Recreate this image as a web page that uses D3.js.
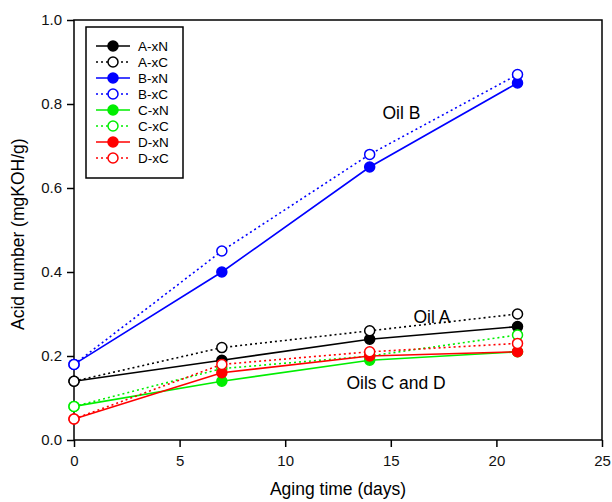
<!DOCTYPE html>
<html>
<head>
<meta charset="utf-8">
<script src="https://cdn.jsdelivr.net/npm/d3@7"></script>
<style>
  body { margin: 0; background: #fff; }
  text { font-family: "Liberation Sans", Arial, sans-serif; }
</style>
</head>
<body>
<div class="chart"></div>
<script>
var width = 612;
var height = 502;

var days = [0, 7, 14, 21];
var seriesNames = ['A-xN', 'A-xC', 'B-xN', 'B-xC', 'C-xN', 'C-xC', 'D-xN', 'D-xC'];
var seriesColors = ['#000000', '#000000', '#0000ff', '#0000ff', '#00ee00', '#00ee00', '#ff0000', '#ff0000'];
var aXN = [0.14, 0.19, 0.24, 0.27];
var aXC = [0.14, 0.22, 0.26, 0.30];
var bXN = [0.18, 0.40, 0.65, 0.85];
var bXC = [0.18, 0.45, 0.68, 0.87];
var cXN = [0.08, 0.14, 0.19, 0.21];
var cXC = [0.08, 0.17, 0.20, 0.25];
var dXN = [0.05, 0.16, 0.20, 0.21];
var dXC = [0.05, 0.18, 0.21, 0.23];
var xTicks = [0, 5, 10, 15, 20, 25];
var yTicks = [0.0, 0.2, 0.4, 0.6, 0.8, 1.0];
var annotations = [
  {text: 'Oil B', x: 15.5, y: 0.764},
  {text: 'Oil A', x: 16.95, y: 0.279},
  {text: 'Oils C and D', x: 15.25, y: 0.121}
];

var allValues = [aXN, aXC, bXN, bXC, cXN, cXC, dXN, dXC];
var series = seriesNames.map((name, i) => ({
  name: name,
  color: seriesColors[i],
  open: name.endsWith('xC'),
  values: allValues[i].map((v, j) => ({x: days[j], y: v}))
}));

var margin = {left: 74, right: 10, top: 20, bottom: 62};
var x = d3.scaleLinear().domain([0, 25]).range([margin.left, width - margin.right]);
var y = d3.scaleLinear().domain([0, 1]).range([height - margin.bottom, margin.top]);

var svg = d3.select('.chart').append('svg')
  .attr('width', width)
  .attr('height', height);

// frame
svg.append('rect')
  .attr('x', x(0)).attr('y', y(1))
  .attr('width', x(25) - x(0)).attr('height', y(0) - y(1))
  .attr('fill', 'none').attr('stroke', '#000').attr('stroke-width', 1.5);

var xAxis = svg.append('g')
  .attr('transform', `translate(0, ${y(0)})`)
  .call(d3.axisBottom(x).tickValues(xTicks).tickSize(7).tickPadding(8).tickFormat(d3.format('d')));
var yAxis = svg.append('g')
  .attr('transform', `translate(${x(0)}, 0)`)
  .call(d3.axisLeft(y).tickValues(yTicks).tickSize(7).tickPadding(5).tickFormat(d3.format('.1f')));

[xAxis, yAxis].forEach(a => {
  a.select('.domain').remove();
  a.selectAll('line').attr('stroke-width', 1.5);
  a.selectAll('text').style('font-size', '15px').attr('fill', '#111');
});

svg.append('text')
  .attr('x', x(12.5)).attr('y', 495)
  .attr('text-anchor', 'middle')
  .style('font-size', '17.5px')
  .text('Aging time (days)');

svg.append('text')
  .attr('transform', `translate(24, ${y(0.49)}) rotate(-90)`)
  .attr('text-anchor', 'middle')
  .style('font-size', '17.5px')
  .text('Acid number (mgKOH/g)');

var line = d3.line().x(d => x(d.x)).y(d => y(d.y));

var plot = svg.append('g');
series.forEach(s => {
  plot.append('path')
    .datum(s.values)
    .attr('fill', 'none')
    .attr('stroke', s.color)
    .attr('stroke-width', 1.6)
    .attr('stroke-dasharray', s.open ? '2,3' : null)
    .attr('d', line);
});
series.forEach(s => {
  plot.selectAll(null)
    .data(s.values)
    .enter().append('circle')
    .attr('cx', d => x(d.x))
    .attr('cy', d => y(d.y))
    .attr('r', 5)
    .attr('fill', s.open ? '#fff' : s.color)
    .attr('stroke', s.color)
    .attr('stroke-width', 1.5);
});

svg.selectAll('.note')
  .data(annotations)
  .enter().append('text')
  .attr('x', d => x(d.x))
  .attr('y', d => y(d.y))
  .attr('text-anchor', 'middle')
  .style('font-size', '17.5px')
  .text(d => d.text);

// legend
var legend = svg.append('g').attr('transform', 'translate(86, 27)');
legend.append('rect')
  .attr('width', 97).attr('height', 151)
  .attr('fill', '#fff').attr('stroke', '#000').attr('stroke-width', 1.5);

var item = legend.selectAll('.item')
  .data(series)
  .enter().append('g')
  .attr('transform', (d, i) => `translate(0, ${19 + i * 16})`);
item.append('line')
  .attr('x1', 10).attr('x2', 44)
  .attr('stroke', d => d.color)
  .attr('stroke-width', 1.6)
  .attr('stroke-dasharray', d => d.open ? '2,3' : null);
item.append('circle')
  .attr('cx', 27).attr('r', 5)
  .attr('fill', d => d.open ? '#fff' : d.color)
  .attr('stroke', d => d.color)
  .attr('stroke-width', 1.5);
item.append('text')
  .attr('x', 52).attr('dy', '0.35em')
  .style('font-size', '13.5px')
  .text(d => d.name);
</script>
</body>
</html>
